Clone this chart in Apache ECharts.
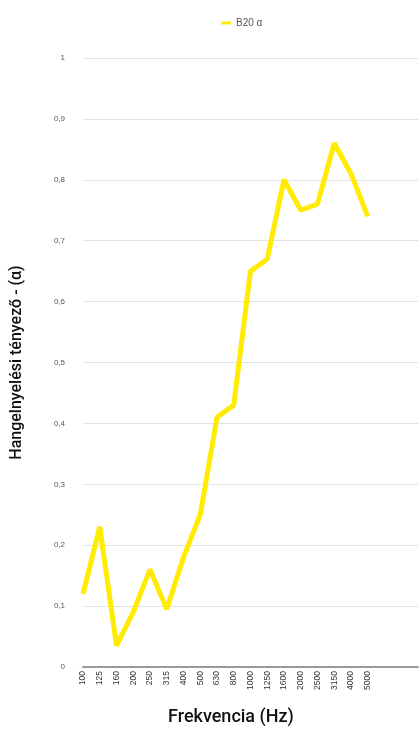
<!DOCTYPE html>
<html>
<head>
<meta charset="utf-8">
<script src="https://cdn.jsdelivr.net/npm/echarts@6/dist/echarts.min.js"></script>
<style>
	html, body { margin: 0; padding: 0; background: #fff; }
	#chart { width: 419px; height: 735px; }
</style>
</head>
<body>
<div id="chart"></div>
<script>
// frekvencia kategóriák (az utolsó három üres hely a tengely végén)
var frekvencia = ['100', '125', '160', '200', '250', '315', '400', '500', '630', '800',
	'1000', '1250', '1600', '2000', '2500', '3150', '4000', '5000', '', '', ''];
// B20 hangelnyelési tényező
var b20Alfa = [0.12, 0.23, 0.035, 0.09, 0.16, 0.095, 0.18, 0.25, 0.41, 0.43,
	0.65, 0.67, 0.80, 0.75, 0.76, 0.86, 0.81, 0.74];

var nevFont = "'Liberation Sans Narrow', 'Roboto', sans-serif";

var option = {
	animation: false,
	legend: {
		data: ['B20 α'],
		left: 216,
		top: 13,
		itemWidth: 10,
		itemHeight: 3,
		itemGap: 6,
		icon: 'rect',
		textStyle: {
			fontSize: 10,
			color: '#555'
		}
	},
	title: {
		text: 'Frekvencia (Hz)',
		left: 163,
		top: 703,
		textStyle: {
			fontFamily: nevFont,
			fontSize: 18,
			fontWeight: 500,
			color: '#111'
		}
	},
	grid: {
		left: 83,
		right: 1,
		top: 58,
		bottom: 68
	},
	xAxis: {
		type: 'category',
		data: frekvencia,
		boundaryGap: false,
		axisLine: {
			lineStyle: { color: '#999', width: 2 }
		},
		axisTick: { show: false },
		axisLabel: {
			rotate: 90,
			interval: 0,
			fontSize: 8.5,
			color: '#333',
			margin: 4
		},
		splitLine: { show: false }
	},
	yAxis: {
		type: 'value',
		min: 0,
		max: 1,
		interval: 0.1,
		name: 'Hangelnyelési tényező - (α)',
		nameLocation: 'middle',
		nameGap: 58,
		nameTextStyle: {
			fontFamily: nevFont,
			fontSize: 16,
			fontWeight: 500,
			color: '#111'
		},
		axisLine: { show: false },
		axisTick: { show: false },
		axisLabel: {
			fontSize: 8,
			color: '#555',
			margin: 18,
			formatter: function(v) {
				return String(Math.round(v * 10) / 10).replace('.', ',');
			}
		},
		splitLine: {
			lineStyle: { color: '#e2e2e2', width: 1 }
		}
	},
	series: [{
		name: 'B20 α',
		type: 'line',
		data: b20Alfa,
		symbol: 'none',
		lineStyle: {
			width: 5,
			color: '#ffec00'
		},
		itemStyle: { color: '#ffec00' }
	}]
};

var chart = echarts.init(document.getElementById('chart'));
chart.setOption(option);
</script>
</body>
</html>
